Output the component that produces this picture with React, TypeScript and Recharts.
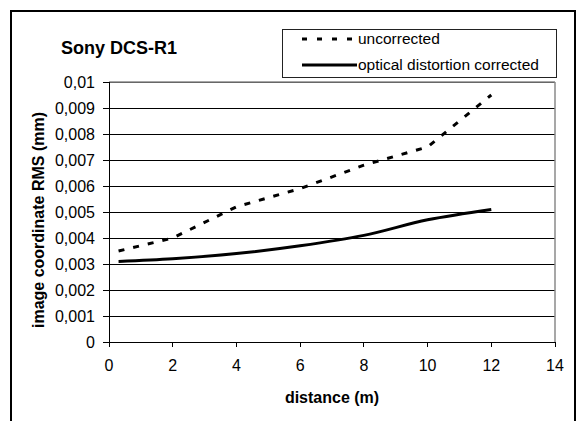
import React from "react";
import {
  LineChart,
  Line,
  XAxis,
  YAxis,
  CartesianGrid,
  ReferenceLine,
  Legend,
  Label,
} from "recharts";

const FONT = "'Liberation Sans', Arial, sans-serif";

const distance = [0.3, 2, 4, 6, 8, 10, 12];
const uncorrected = [0.0035, 0.004, 0.0052, 0.0059, 0.0068, 0.0075, 0.0095];
const corrected = [0.0031, 0.0032, 0.0034, 0.0037, 0.0041, 0.0047, 0.0051];

const xTicks = [0, 2, 4, 6, 8, 10, 12, 14];
const yTicks = [0, 0.001, 0.002, 0.003, 0.004, 0.005, 0.006, 0.007, 0.008, 0.009, 0.01];

const legendOrder = ["uncorrected", "corrected"];
const seriesNames = {
  uncorrected: "uncorrected",
  corrected: "optical distortion corrected",
};

const data = distance.map((d, i) => ({
  distance: d,
  uncorrected: uncorrected[i],
  corrected: corrected[i],
}));

function LegendBox(props: any) {
  const items = [...(props.payload || [])].sort(
    (a: any, b: any) => legendOrder.indexOf(a.dataKey) - legendOrder.indexOf(b.dataKey)
  );
  return (
    <div
      style={{
        width: 275,
        height: 49,
        boxSizing: "border-box",
        border: "1px solid #222",
        background: "#fff",
      }}
    >
      <svg width={273} height={47} style={{ display: "block" }}>
        {items.map((it: any, i: number) => {
          const cy = 9 + i * 26;
          const dashed = it.dataKey === "uncorrected";
          return (
            <g key={it.dataKey}>
              <line
                x1={19}
                x2={dashed ? 71 : 74}
                y1={cy}
                y2={cy}
                stroke="#000"
                strokeWidth={3}
                strokeDasharray={dashed ? "5 10" : undefined}
              />
              <text
                x={75}
                y={cy}
                dy="0.35em"
                fontFamily={FONT}
                fontSize={15.5}
                fill="#000"
              >
                {it.value}
              </text>
            </g>
          );
        })}
      </svg>
    </div>
  );
}

export default function App() {
  return (
    <div
      style={{
        position: "absolute",
        left: 0,
        top: 0,
        width: 578,
        height: 421,
        overflow: "hidden",
        background: "#fff",
        fontFamily: FONT,
      }}
    >
      <div
        style={{
          position: "absolute",
          left: 10,
          top: 10,
          width: 566,
          height: 440,
          boxSizing: "border-box",
          border: "2px solid #000",
        }}
      />
      <div
        style={{
          position: "absolute",
          left: 61,
          top: 39,
          fontSize: 18,
          lineHeight: "18px",
          fontWeight: "bold",
          whiteSpace: "nowrap",
        }}
      >
        Sony DCS-R1
      </div>
      <div style={{ position: "absolute", left: 0, top: 0 }}>
        <LineChart
          width={578}
          height={421}
          data={data}
          margin={{ top: 82, right: 23, bottom: 18, left: 49 }}
        >
          <CartesianGrid
            horizontal
            vertical={false}
            stroke="#000"
            strokeWidth={1}
            shapeRendering="crispEdges"
          />
          <ReferenceLine x={14} stroke="#8a8a8a" strokeWidth={1.5} />
          <ReferenceLine y={0.01} stroke="#8a8a8a" strokeWidth={1.5} />
          <XAxis
            type="number"
            dataKey="distance"
            domain={[0, 14]}
            ticks={xTicks}
            height={61}
            tickSize={5}
            tickMargin={13}
            axisLine={{ stroke: "#000", shapeRendering: "crispEdges" }}
            tickLine={{ stroke: "#000", shapeRendering: "crispEdges" }}
            tick={{ fontSize: 16, fill: "#000", fontFamily: FONT }}
          >
            <Label
              value="distance (m)"
              position="insideBottom"
              offset={0}
              style={{ fontSize: 16, fontWeight: "bold", fill: "#000", fontFamily: FONT }}
            />
          </XAxis>
          <YAxis
            type="number"
            domain={[0, 0.01]}
            ticks={yTicks}
            width={60}
            tickSize={6}
            tickMargin={8}
            interval={0}
            axisLine={{ stroke: "#000", shapeRendering: "crispEdges" }}
            tickLine={{ stroke: "#000", shapeRendering: "crispEdges" }}
            tick={{ fontSize: 16, fill: "#000", fontFamily: FONT }}
            tickFormatter={(v: number) => String(v).replace(".", ",")}
          >
            <Label
              content={(p: any) => {
                const vb = p.viewBox || { x: 49, y: 82, height: 260 };
                const x = vb.x - 5;
                const y = vb.y + vb.height / 2 + 8;
                return (
                  <text
                    x={x}
                    y={y}
                    transform={`rotate(-90, ${x}, ${y})`}
                    textAnchor="middle"
                    fontFamily={FONT}
                    fontSize={16}
                    fontWeight="bold"
                    fill="#000"
                  >
                    image coordinate RMS (mm)
                  </text>
                );
              }}
            />
          </YAxis>
          <Legend
            layout="horizontal"
            verticalAlign="middle"
            align="center"
            content={<LegendBox />}
            wrapperStyle={{ position: "absolute", left: 282, top: 29, width: 275, height: 49 }}
          />
          <Line
            type="linear"
            dataKey="uncorrected"
            name={seriesNames.uncorrected}
            stroke="#000"
            strokeWidth={3}
            strokeDasharray="6 9"
            dot={false}
            isAnimationActive={false}
          />
          <Line
            type="monotone"
            dataKey="corrected"
            name={seriesNames.corrected}
            stroke="#000"
            strokeWidth={3}
            dot={false}
            isAnimationActive={false}
          />
        </LineChart>
      </div>
    </div>
  );
}
